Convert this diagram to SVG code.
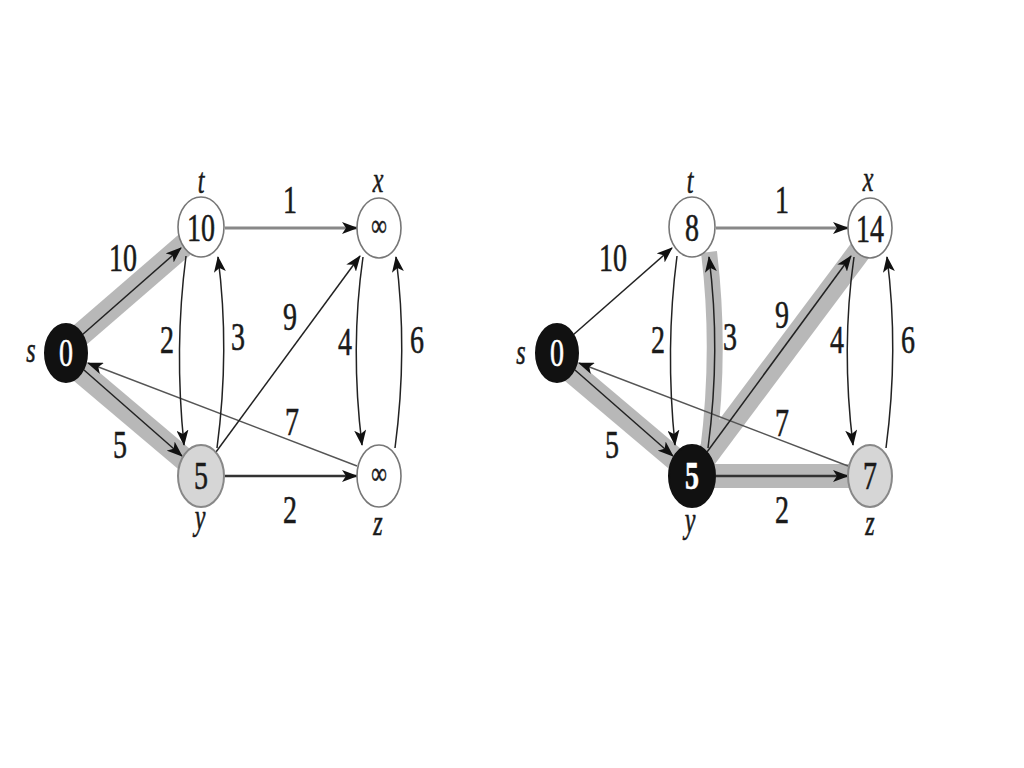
<svg xmlns="http://www.w3.org/2000/svg" width="1024" height="768" viewBox="0 0 1024 768">
<defs>
<marker id="ah" markerUnits="userSpaceOnUse" markerWidth="16" markerHeight="12" refX="15" refY="6" orient="auto">
<path d="M0,0 L16,6 L0,12 L4,6 z" fill="#111"/>
</marker>
<style>
.bg{fill:#fff}
.e{fill:none;stroke:#222;stroke-width:1.5}
.e7{fill:none;stroke:#555;stroke-width:1.4}
.eh{fill:none;stroke:#888;stroke-width:3}
.ehd{fill:none;stroke:#333;stroke-width:2.5}
.band{fill:none;stroke:#b8b8b8;stroke-width:23}
.nw{fill:#fff;stroke:#777;stroke-width:1.6}
.ng{fill:#d6d6d6;stroke:#888;stroke-width:2}
.nb{fill:#111;stroke:#111;stroke-width:2}
text{font-family:"Liberation Serif","Times New Roman",serif;font-size:28px;text-anchor:middle;fill:#1a1a1a;stroke:#1a1a1a;stroke-width:0.4}
.lab{font-style:italic;font-size:24px}
.wt{fill:#fff;stroke:#fff}
.inf{font-size:22px}
.bold{font-weight:bold}
</style>
</defs>
<rect class="bg" x="0" y="0" width="1024" height="768"/>

<g id="connectors">
<!-- left graph -->
<path class="band" d="M72,342 L190,240"/>
<path class="band" d="M74,366 L190,464"/>
<path class="e" d="M82,335 L181,248" marker-end="url(#ah)"/>
<path class="e" d="M84,370 L182,456" marker-end="url(#ah)"/>
<path class="e7" d="M357,466 L88,363" marker-end="url(#ah)"/>
<path class="e" d="M216,452 L360,256" marker-end="url(#ah)"/>
<path class="eh" d="M225,228 L357,228" marker-end="url(#ah)"/>
<path class="ehd" d="M225,476 L357,476" marker-end="url(#ah)"/>
<path class="e" d="M186,256 Q174,348 184,445" marker-end="url(#ah)"/>
<path class="e" d="M217,448 Q230,350 218,257" marker-end="url(#ah)"/>
<path class="e" d="M363,257 Q350,348 362,445" marker-end="url(#ah)"/>
<path class="e" d="M395,448 Q408,350 396,257" marker-end="url(#ah)"/>
<!-- right graph -->
<path class="band" d="M565,366 L681,464"/>
<path class="band" style="stroke-width:16" d="M708,452 Q721,350 709,252"/>
<path class="band" d="M702,462 L862,248"/>
<path class="band" style="stroke-width:24" d="M705,476 L860,476"/>
<path class="e" d="M573,335 L672,248" marker-end="url(#ah)"/>
<path class="e" d="M575,370 L673,456" marker-end="url(#ah)"/>
<path class="e7" d="M848,466 L579,363" marker-end="url(#ah)"/>
<path class="e" d="M707,452 L851,256" marker-end="url(#ah)"/>
<path class="eh" d="M716,228 L848,228" marker-end="url(#ah)"/>
<path class="ehd" d="M716,476 L848,476" marker-end="url(#ah)"/>
<path class="e" d="M677,256 Q665,348 675,445" marker-end="url(#ah)"/>
<path class="e" d="M708,448 Q721,350 709,257" marker-end="url(#ah)"/>
<path class="e" d="M854,257 Q841,348 853,445" marker-end="url(#ah)"/>
<path class="e" d="M886,448 Q899,350 887,257" marker-end="url(#ah)"/>
</g>

<g id="weights">
<text transform="translate(290,213) scale(1,1.45)">1</text>
<text transform="translate(123,271) scale(1,1.45)">10</text>
<text transform="translate(167,353) scale(1,1.45)">2</text>
<text transform="translate(238,350) scale(1,1.45)">3</text>
<text transform="translate(290,330) scale(1,1.45)">9</text>
<text transform="translate(345,355) scale(1,1.45)">4</text>
<text transform="translate(417,353) scale(1,1.45)">6</text>
<text transform="translate(292,435) scale(1,1.45)">7</text>
<text transform="translate(120,458) scale(1,1.45)">5</text>
<text transform="translate(290,523) scale(1,1.45)">2</text>

<text transform="translate(782,213) scale(1,1.45)">1</text>
<text transform="translate(613,271) scale(1,1.45)">10</text>
<text transform="translate(658,353) scale(1,1.45)">2</text>
<text transform="translate(730,350) scale(1,1.45)">3</text>
<text transform="translate(782,328) scale(1,1.45)">9</text>
<text transform="translate(837,353) scale(1,1.45)">4</text>
<text transform="translate(908,353) scale(1,1.45)">6</text>
<text transform="translate(782,436) scale(1,1.45)">7</text>
<text transform="translate(612,458) scale(1,1.45)">5</text>
<text transform="translate(782,523) scale(1,1.45)">2</text>
</g>

<!-- left graph nodes -->
<g id="L-s">
<ellipse class="nb" cx="66" cy="353" rx="21" ry="29"/>
<text class="wt" transform="translate(66,366) scale(1,1.45)">0</text>
<text class="lab" transform="translate(31,362) scale(1,1.45)">s</text>
</g>
<g id="L-t">
<ellipse class="nw" cx="201" cy="227" rx="23" ry="30"/>
<text transform="translate(201,241) scale(1,1.45)">10</text>
<text class="lab" transform="translate(201,193) scale(1,1.45)">t</text>
</g>
<g id="L-x">
<ellipse class="nw" cx="379" cy="228" rx="22" ry="30"/>
<text class="inf" transform="translate(379,236) scale(1,1.45)">∞</text>
<text class="lab" transform="translate(378,192) scale(1,1.45)">x</text>
</g>
<g id="L-y">
<ellipse class="ng" cx="201" cy="476" rx="23" ry="31"/>
<text transform="translate(201,489) scale(1,1.45)">5</text>
<text class="lab" transform="translate(200,529) scale(1,1.45)">y</text>
</g>
<g id="L-z">
<ellipse class="nw" cx="379" cy="476" rx="22" ry="31"/>
<text class="inf" transform="translate(379,484) scale(1,1.45)">∞</text>
<text class="lab" transform="translate(378,535) scale(1,1.45)">z</text>
</g>

<!-- right graph nodes -->
<g id="R-s">
<ellipse class="nb" cx="557" cy="353" rx="21" ry="29"/>
<text class="wt" transform="translate(557,366) scale(1,1.45)">0</text>
<text class="lab" transform="translate(521,364) scale(1,1.45)">s</text>
</g>
<g id="R-t">
<ellipse class="nw" cx="692" cy="227" rx="23" ry="30"/>
<text transform="translate(692,241) scale(1,1.45)">8</text>
<text class="lab" transform="translate(690,193) scale(1,1.45)">t</text>
</g>
<g id="R-x">
<ellipse class="nw" cx="870" cy="228" rx="22" ry="30"/>
<text transform="translate(870,242) scale(1,1.45)">14</text>
<text class="lab" transform="translate(868,191) scale(1,1.45)">x</text>
</g>
<g id="R-y">
<ellipse class="nb" cx="692" cy="476" rx="23" ry="31"/>
<text class="wt bold" transform="translate(692,489) scale(1,1.45)">5</text>
<text class="lab" transform="translate(690,532) scale(1,1.45)">y</text>
</g>
<g id="R-z">
<ellipse class="ng" cx="870" cy="476" rx="22" ry="31"/>
<text transform="translate(870,489) scale(1,1.45)">7</text>
<text class="lab" transform="translate(870,535) scale(1,1.45)">z</text>
</g>
</svg>
